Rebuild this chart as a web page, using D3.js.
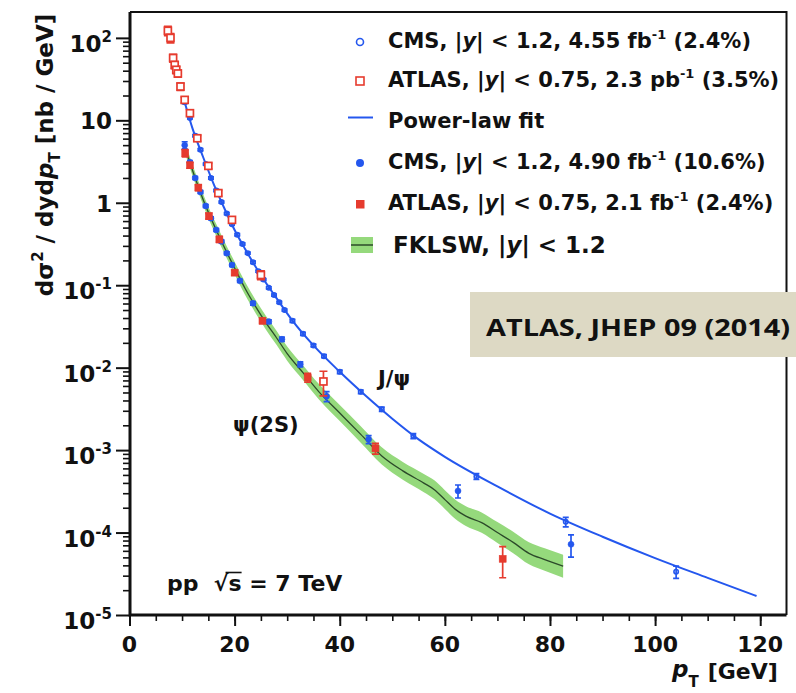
<!DOCTYPE html>
<html>
<head>
<meta charset="utf-8">
<script src="https://cdn.jsdelivr.net/npm/d3@7"></script>
<style>
body { margin: 0; background: #fff; }
svg text { font-family: "DejaVu Sans", sans-serif; font-weight: bold; fill: #111; }
</style>
</head>
<body>
<div id="chart"></div>
<script>
// prompt J/psi and psi(2S) cross sections, pp at 7 TeV

// CMS J/psi, |y| < 1.2 (open circles)
var cmsJpsiPt  = [10.5, 11.5, 12.5, 13.5, 14.5, 15.5, 16.5, 17.5, 18.5, 19.5, 20.5, 21.5, 22.5, 23.5, 24.5, 25.5, 26.5, 27.5, 28.5, 29.5, 31, 33, 35, 37, 40, 44, 48, 54, 66, 83, 104];
var cmsJpsiVal = [16.6, 10.7, 6.5, 4.4, 2.95, 2.0, 1.41, 1.02, 0.74, 0.55, 0.41, 0.316, 0.245, 0.19, 0.148, 0.117, 0.093, 0.076, 0.062, 0.050, 0.037, 0.0257, 0.0186, 0.0138, 0.0089, 0.0051, 0.00313, 0.00148, 4.8e-4, 1.35e-4, 3.35e-5];
var cmsJpsiErr = [0.04, 0.03, 0.03, 0.03, 0.03, 0.03, 0.03, 0.03, 0.03, 0.03, 0.03, 0.03, 0.03, 0.03, 0.03, 0.03, 0.03, 0.03, 0.03, 0.03, 0.04, 0.04, 0.04, 0.04, 0.05, 0.05, 0.06, 0.07, 0.08, 0.13, 0.17];

// ATLAS J/psi, |y| < 0.75 (open squares)
var atlasJpsiPt  = [7.3, 7.8, 8.3, 8.6, 8.9, 9.2, 9.7, 10.5, 11.5, 12.9, 15.0, 16.9, 19.5, 25.0, 36.9];
var atlasJpsiVal = [122, 100, 57, 47, 41, 37, 25.7, 17.7, 12.2, 6.06, 2.8, 1.31, 0.62, 0.133, 0.0068];
var atlasJpsiErr = [0.13, 0.13, 0.11, 0.1, 0.1, 0.1, 0.1, 0.08, 0.08, 0.08, 0.08, 0.08, 0.08, 0.12, 0.33];

// CMS psi(2S), |y| < 1.2 (filled circles)
var cmsPsiPt  = [10.5, 11.5, 12.5, 13.5, 14.5, 15.5, 16.5, 17.5, 18.5, 19.5, 21, 23.5, 26.5, 29, 32.5, 37.5, 45.5, 62.5, 84];
var cmsPsiVal = [5.0, 3.1, 2.0, 1.35, 0.916, 0.65, 0.469, 0.34, 0.244, 0.176, 0.113, 0.0604, 0.0362, 0.0221, 0.011, 0.0045, 0.00135, 3.2e-4, 7.2e-5];
var cmsPsiErr = [0.1, 0.05, 0.04, 0.04, 0.04, 0.04, 0.04, 0.04, 0.04, 0.04, 0.04, 0.05, 0.05, 0.06, 0.07, 0.14, 0.11, 0.18, 0.3];

// ATLAS psi(2S), |y| < 0.75 (filled squares)
var atlasPsiPt  = [10.6, 11.5, 13.1, 15.1, 17.1, 20.0, 25.3, 33.9, 46.8, 71.0];
var atlasPsiVal = [4.0, 2.85, 1.53, 0.69, 0.36, 0.142, 0.037, 0.0076, 0.00105, 4.8e-5];
var atlasPsiErr = [0.1, 0.08, 0.08, 0.08, 0.08, 0.07, 0.07, 0.12, 0.15, 0.41];

// power-law fit to J/psi
var fitPt  = [10.5, 12, 14, 16, 18, 20, 22, 25, 28, 31, 35, 40, 45, 50, 55, 60, 70, 80, 90, 100, 110, 119.3];
var fitVal = [16.6, 7.94, 3.59, 1.70, 0.871, 0.468, 0.275, 0.132, 0.0692, 0.0372, 0.0186, 0.00891, 0.00452, 0.0024, 0.00135, 8.3e-4, 3.63e-4, 1.70e-4, 8.9e-5, 4.9e-5, 2.82e-5, 1.70e-5];

// FKLSW psi(2S) prediction: central value and band factor
var bandPt  = [10.5, 12.5, 14.5, 16.5, 18.5, 20, 22, 24, 26, 28, 30, 33, 36, 40, 44, 48, 52, 56, 58, 60, 62, 64, 67, 70, 73, 76, 79, 82.5];
var bandVal = [4.79, 2.0, 0.912, 0.468, 0.251, 0.162, 0.0912, 0.055, 0.0347, 0.0229, 0.0148, 0.00871, 0.00513, 0.00282, 0.00155, 8.5e-4, 5.6e-4, 3.98e-4, 3.31e-4, 2.51e-4, 1.91e-4, 1.58e-4, 1.32e-4, 1.0e-4, 7.6e-5, 5.6e-5, 4.7e-5, 3.9e-5];
var bandFac = [1.17, 1.17, 1.17, 1.18, 1.18, 1.19, 1.2, 1.2, 1.21, 1.22, 1.22, 1.23, 1.24, 1.25, 1.26, 1.27, 1.28, 1.29, 1.3, 1.3, 1.31, 1.32, 1.33, 1.34, 1.35, 1.36, 1.37, 1.38];

var xTicks = [0, 20, 40, 60, 80, 100, 120];
var yTickText = ["10^2", "10", "1", "10^-1", "10^-2", "10^-3", "10^-4", "10^-5"];
var yTickVal = [1e2, 1e1, 1, 1e-1, 1e-2, 1e-3, 1e-4, 1e-5];

var legendText = [
	"CMS, |y| < 1.2, 4.55 fb^-1 (2.4%)",
	"ATLAS, |y| < 0.75, 2.3 pb^-1 (3.5%)",
	"Power-law fit",
	"CMS, |y| < 1.2, 4.90 fb^-1 (10.6%)",
	"ATLAS, |y| < 0.75, 2.1 fb^-1 (2.4%)",
	"FKLSW, |y| < 1.2"
];

var blue = "#2457ee", red = "#e63b2e", green = "#95d97c", dark = "#2c4a2a";

var width = 796, height = 693;

var svg = d3.select("#chart")
	.append("svg")
		.attr("width", width)
		.attr("height", height);

svg.append("rect").attr("width", width).attr("height", height).attr("fill", "#fff");

var x = d3.scaleLinear().domain([0, 125]).range([129.5, 786.5]);
var y = d3.scaleLog().domain([1e-5, 206]).range([615, 12]);

// ticks
var minors = [];
for (var k = -5; k < 2; k++) {
	for (var m = 2; m < 10; m++) minors.push(m * Math.pow(10, k));
}
var xMinor = d3.range(0, 121, 5);

function plainAxis(g) {
	g.select(".domain").remove();
	g.selectAll("line").attr("stroke", "#111");
}

svg.append("g")
	.attr("transform", "translate(130,0)")
	.call(d3.axisLeft(y).tickValues(minors).tickSize(7).tickFormat(""))
	.call(plainAxis)
	.selectAll("line").attr("stroke-width", 1.6);

svg.append("g")
	.attr("transform", "translate(130,0)")
	.call(d3.axisLeft(y).tickValues(yTickVal).tickSize(14).tickFormat(""))
	.call(plainAxis)
	.selectAll("line").attr("stroke-width", 2);

svg.append("g")
	.attr("transform", "translate(0,615)")
	.call(d3.axisBottom(x).tickValues(xMinor).tickSize(6).tickFormat(""))
	.call(plainAxis)
	.selectAll("line").attr("stroke-width", 1.6);

svg.append("g")
	.attr("transform", "translate(0,615)")
	.call(d3.axisBottom(x).tickValues(xTicks).tickSize(11).tickFormat(""))
	.call(plainAxis)
	.selectAll("line").attr("stroke-width", 2);

// frame
svg.append("path")
	.attr("d", "M130,12H786.5V615")
	.attr("fill", "none").attr("stroke", "#111").attr("stroke-width", 2);
svg.append("path")
	.attr("d", "M130,12V615H786.5")
	.attr("fill", "none").attr("stroke", "#111").attr("stroke-width", 3);

// tick labels
svg.selectAll(".xlab").data(xTicks).enter().append("text")
	.attr("class", "xlab")
	.attr("x", function(d) { return x(d); })
	.attr("y", 652)
	.attr("text-anchor", "middle")
	.attr("font-size", 22)
	.text(function(d) { return d; });

yTickText.forEach(function(s, i) {
	var parts = s.split("^");
	var t = svg.append("text")
		.attr("x", 112)
		.attr("y", y(yTickVal[i]) + (parts.length > 1 ? 14 : 9))
		.attr("text-anchor", "end")
		.attr("font-size", 23);
	t.append("tspan").text(parts[0]);
	if (parts.length > 1) {
		t.append("tspan").attr("font-size", 15).attr("dy", -10).text(parts[1]);
	}
});

// axis titles
var yt = svg.append("text")
	.attr("transform", "translate(53,155) rotate(-90)")
	.attr("text-anchor", "middle")
	.attr("font-size", 23);
yt.append("tspan").text("d\u03c3");
yt.append("tspan").attr("font-size", 15).attr("dy", -10).text("2");
yt.append("tspan").attr("dy", 10).text(" / dyd");
yt.append("tspan").attr("font-style", "italic").text("p");
yt.append("tspan").attr("font-size", 15).attr("dy", 7).text("T");
yt.append("tspan").attr("dy", -7).attr("dx", 8).text("[nb / GeV]");

var xt = svg.append("text")
	.attr("x", 672)
	.attr("y", 677)
	.attr("font-size", 23);
xt.append("tspan").attr("font-style", "italic").text("p");
xt.append("tspan").attr("font-size", 15).attr("dy", 10).text("T");
xt.append("tspan").attr("font-size", 22).attr("dy", -8).attr("dx", 9).text("[GeV]");

// FKLSW band
var band = bandPt.map(function(p, i) { return {pt: p, v: bandVal[i], f: bandFac[i]}; });

svg.append("path")
	.datum(band)
	.attr("fill", green)
	.attr("d", d3.area()
		.x(function(d) { return x(d.pt); })
		.y0(function(d) { return y(d.v / d.f); })
		.y1(function(d) { return y(d.v * d.f); })
		.curve(d3.curveMonotoneX));

svg.append("path")
	.datum(band)
	.attr("fill", "none")
	.attr("stroke", dark)
	.attr("stroke-width", 1.3)
	.attr("d", d3.line()
		.x(function(d) { return x(d.pt); })
		.y(function(d) { return y(d.v); })
		.curve(d3.curveMonotoneX));

// power-law fit
svg.append("path")
	.datum(fitPt.map(function(p, i) { return [p, fitVal[i]]; }))
	.attr("fill", "none")
	.attr("stroke", blue)
	.attr("stroke-width", 2)
	.attr("d", d3.line()
		.x(function(d) { return x(d[0]); })
		.y(function(d) { return y(d[1]); })
		.curve(d3.curveMonotoneX));

// points with error bars
function series(pts, vals, errs, color, shape, filled, cap) {
	var data = pts.map(function(p, i) { return {pt: p, v: vals[i], e: errs[i]}; });
	var g = svg.append("g");
	g.selectAll("path.err").data(data).enter().append("path")
		.attr("class", "err")
		.attr("fill", "none")
		.attr("stroke", color)
		.attr("stroke-width", 1.7)
		.attr("d", function(d) {
			var px = x(d.pt), hi = y(d.v * (1 + d.e)), lo = y(d.v * (1 - d.e));
			return "M" + (px - cap) + "," + hi + "H" + (px + cap) +
				"M" + px + "," + hi + "V" + lo +
				"M" + (px - cap) + "," + lo + "H" + (px + cap);
		});
	if (shape == "circle") {
		g.selectAll("circle").data(data).enter().append("circle")
			.attr("cx", function(d) { return x(d.pt); })
			.attr("cy", function(d) { return y(d.v); })
			.attr("r", filled ? 3 : 2.2)
			.attr("fill", filled ? color : "none")
			.attr("stroke", color)
			.attr("stroke-width", filled ? 0.5 : 1.6);
	} else {
		g.selectAll("rect").data(data).enter().append("rect")
			.attr("x", function(d) { return x(d.pt) - 3.5; })
			.attr("y", function(d) { return y(d.v) - 3.5; })
			.attr("width", 7)
			.attr("height", 7)
			.attr("fill", filled ? color : "#fff")
			.attr("stroke", color)
			.attr("stroke-width", filled ? 0.5 : 1.7);
	}
}

series(cmsJpsiPt, cmsJpsiVal, cmsJpsiErr, blue, "circle", false, 3);
series(cmsPsiPt, cmsPsiVal, cmsPsiErr, blue, "circle", true, 3);
series(atlasJpsiPt, atlasJpsiVal, atlasJpsiErr, red, "square", false, 4);
series(atlasPsiPt, atlasPsiVal, atlasPsiErr, red, "square", true, 3.5);

// legend
var rowY = [48, 87, 128, 169, 210, 253];

function richText(t, s, supSize) {
	var bits = s.split(/(\|y\||\^-1)/);
	var shift = 0;
	bits.forEach(function(b) {
		if (b == "") return;
		var sp;
		if (b == "|y|") {
			sp = t.append("tspan").text("|");
			t.append("tspan").attr("font-style", "italic").text("y");
			t.append("tspan").text("|");
		} else if (b == "^-1") {
			sp = t.append("tspan").attr("font-size", supSize).text("-1");
		} else {
			sp = t.append("tspan").text(b);
		}
		var dy = (b == "^-1" ? -9 : 0) + shift;
		if (dy) sp.attr("dy", dy);
		shift = b == "^-1" ? 9 : 0;
	});
}

legendText.forEach(function(s, i) {
	var t = svg.append("text")
		.attr("x", i == 5 ? 393 : 388)
		.attr("y", rowY[i])
		.attr("font-size", i == 5 ? 23 : 21)
		.style("white-space", "pre");
	richText(t, s, 13);
});

var lg = svg.append("g");
lg.append("circle").attr("cx", 360).attr("cy", 42).attr("r", 3.5)
	.attr("fill", "none").attr("stroke", blue).attr("stroke-width", 1.6);
lg.append("rect").attr("x", 356).attr("y", 77).attr("width", 8).attr("height", 8)
	.attr("fill", "none").attr("stroke", red).attr("stroke-width", 1.6);
lg.append("line").attr("x1", 348).attr("x2", 373).attr("y1", 117.5).attr("y2", 117.5)
	.attr("stroke", blue).attr("stroke-width", 2);
lg.append("circle").attr("cx", 360).attr("cy", 163).attr("r", 4)
	.attr("fill", blue);
lg.append("rect").attr("x", 356).attr("y", 200).attr("width", 8.5).attr("height", 8.5)
	.attr("fill", red);
lg.append("rect").attr("x", 351).attr("y", 237).attr("width", 22).attr("height", 16)
	.attr("fill", green);
lg.append("line").attr("x1", 351).attr("x2", 373).attr("y1", 245).attr("y2", 245)
	.attr("stroke", dark).attr("stroke-width", 1.5);

// curve labels
svg.append("text").attr("x", 378).attr("y", 386).attr("font-size", 21).text("J/\u03c8");
svg.append("text").attr("x", 233).attr("y", 432).attr("font-size", 21).text("\u03c8(2S)");

var pp = svg.append("text")
	.attr("x", 167)
	.attr("y", 591)
	.attr("font-size", 22)
	.style("white-space", "pre")
	.text("pp  \u221as = 7 TeV");
var e1 = pp.node().getExtentOfChar(4), e2 = pp.node().getExtentOfChar(5);
svg.append("line")
	.attr("x1", e1.x + e1.width * 0.8).attr("x2", e2.x + e2.width)
	.attr("y1", e1.y + 1.5).attr("y2", e1.y + 1.5)
	.attr("stroke", "#111").attr("stroke-width", 1.6);

// reference box
svg.append("rect")
	.attr("x", 470).attr("y", 292).attr("width", 330).attr("height", 65)
	.attr("fill", "#ddd9c4");
svg.append("text")
	.attr("x", 486).attr("y", 336)
	.attr("font-size", 23)
	.attr("textLength", 304)
	.attr("lengthAdjust", "spacingAndGlyphs")
	.style("font-family", "'Open Sans', sans-serif")
	.text("ATLAS, JHEP 09 (2014)");
</script>
</body>
</html>
